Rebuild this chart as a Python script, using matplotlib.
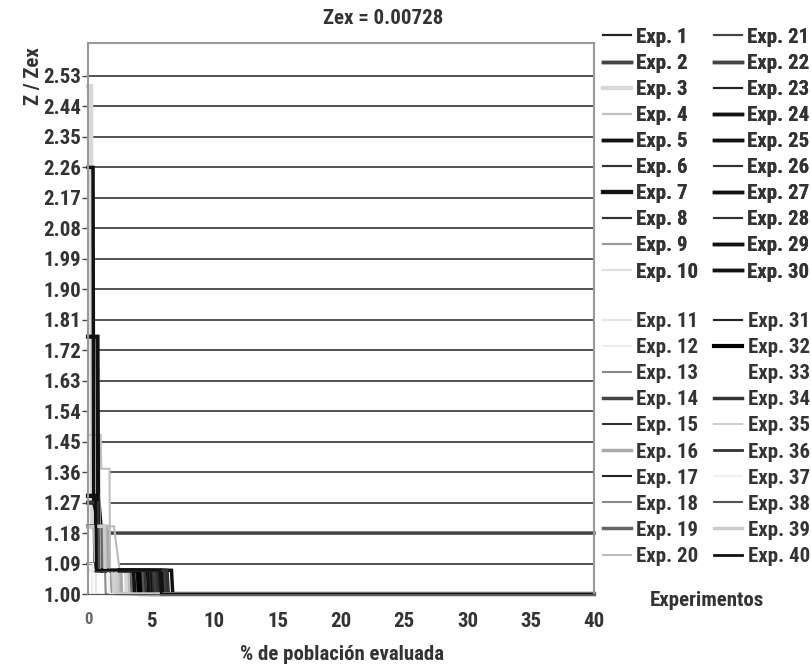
import matplotlib.pyplot as plt
import numpy as np

plt.rcParams['font.family'] = ['Roboto Condensed', 'Liberation Sans', 'DejaVu Sans']
plt.rcParams['font.weight'] = 'bold'

# % de población evaluada (x) y Z / Zex (y) de cada experimento
exp_x = [
    [0, 0.5, 0.55, 3.5, 3.55, 40],
    [0, 0.6, 0.7, 40],
    [0, 0.25, 0.3, 1.1, 1.15, 3.0, 3.05, 40],
    [0, 1.0, 1.05, 1.7, 1.75, 2.4, 2.45, 40],
    [0, 0.4, 0.45, 0.9, 1.0, 4.2, 4.25, 40],
    [0, 0.5, 0.55, 3.6, 3.7, 40],
    [0, 0.75, 0.8, 1.0, 1.05, 5.0, 5.05, 40],
    [0, 0.7, 0.75, 4.5, 4.6, 40],
    [0, 1.2, 1.25, 1.8, 1.85, 40],
    [0, 0.9, 0.95, 2.0, 2.1, 40],
    [0, 0.6, 0.65, 40],
    [0, 0.3, 0.35, 40],
    [0, 1.4, 1.45, 3.8, 3.9, 40],
    [0, 0.8, 0.85, 5.3, 5.35, 40],
    [0, 0.5, 0.55, 4.0, 4.1, 40],
    [0, 1.5, 1.6, 2.6, 2.65, 40],
    [0, 0.6, 0.65, 5.6, 5.65, 40],
    [0, 1.0, 1.05, 1.35, 1.4, 40],
    [0, 1.1, 1.15, 3.4, 3.5, 40],
    [0, 2.05, 2.5, 3.2, 3.25, 40],
    [0, 0.45, 0.5, 4.8, 4.9, 40],
    [0, 0.7, 0.75, 6.0, 6.1, 40],
    [0, 0.55, 0.6, 6.3, 6.4, 40],
    [0, 0.65, 0.7, 5.8, 5.9, 40],
    [0, 0.6, 0.65, 3.9, 4.0, 40],
    [0, 0.5, 0.55, 4.4, 4.5, 40],
    [0, 0.8, 0.85, 6.6, 6.7, 40],
    [0, 0.55, 0.6, 5.1, 5.2, 40],
    [0, 0.7, 0.75, 4.7, 4.8, 40],
    [0, 0.6, 0.65, 3.6, 3.7, 40],
    [0, 0.5, 0.55, 5.5, 5.6, 40],
    [0, 0.65, 0.7, 4.0, 4.1, 40],
    [0, 0.5, 0.55, 2.2, 2.3, 40],
    [0, 0.75, 0.8, 6.2, 6.3, 40],
    [0, 0.9, 0.95, 1.9, 2.0, 40],
    [0, 0.55, 0.6, 5.4, 5.5, 40],
    [0, 0.4, 0.45, 1.6, 1.7, 40],
    [0, 0.85, 0.9, 4.3, 4.4, 40],
    [0, 1.3, 1.35, 2.2, 2.25, 40],
    [0, 0.6, 0.65, 5.7, 5.8, 40],
]
exp_y = [
    [1.29, 1.29, 1.07, 1.07, 1.00, 1.00],
    [1.29, 1.29, 1.18, 1.18],
    [2.50, 2.50, 1.20, 1.20, 1.07, 1.07, 1.00, 1.00],
    [1.47, 1.47, 1.37, 1.37, 1.07, 1.07, 1.00, 1.00],
    [2.26, 2.26, 1.27, 1.20, 1.07, 1.07, 1.00, 1.00],
    [1.20, 1.20, 1.07, 1.07, 1.00, 1.00],
    [1.76, 1.76, 1.29, 1.20, 1.07, 1.07, 1.00, 1.00],
    [1.20, 1.20, 1.07, 1.07, 1.00, 1.00],
    [1.20, 1.20, 1.07, 1.07, 1.00, 1.00],
    [1.29, 1.29, 1.07, 1.07, 1.00, 1.00],
    [1.07, 1.07, 1.00, 1.00],
    [1.09, 1.09, 1.00, 1.00],
    [1.20, 1.20, 1.07, 1.07, 1.00, 1.00],
    [1.20, 1.20, 1.07, 1.07, 1.00, 1.00],
    [1.09, 1.09, 1.07, 1.07, 1.00, 1.00],
    [1.20, 1.20, 1.07, 1.07, 1.00, 1.00],
    [1.20, 1.20, 1.07, 1.07, 1.00, 1.00],
    [1.20, 1.20, 1.07, 1.07, 1.00, 1.00],
    [1.20, 1.20, 1.07, 1.07, 1.00, 1.00],
    [1.20, 1.20, 1.07, 1.07, 1.00, 1.00],
    [1.20, 1.20, 1.07, 1.07, 1.00, 1.00],
    [1.20, 1.20, 1.07, 1.07, 1.00, 1.00],
    [1.09, 1.09, 1.07, 1.07, 1.00, 1.00],
    [1.27, 1.27, 1.07, 1.07, 1.00, 1.00],
    [1.20, 1.20, 1.07, 1.07, 1.00, 1.00],
    [1.09, 1.09, 1.07, 1.07, 1.00, 1.00],
    [1.29, 1.29, 1.07, 1.07, 1.00, 1.00],
    [1.09, 1.09, 1.07, 1.07, 1.00, 1.00],
    [1.27, 1.27, 1.07, 1.07, 1.00, 1.00],
    [1.20, 1.20, 1.07, 1.07, 1.00, 1.00],
    [1.09, 1.09, 1.07, 1.07, 1.00, 1.00],
    [1.29, 1.29, 1.07, 1.07, 1.00, 1.00],
    [1.20, 1.20, 1.07, 1.07, 1.00, 1.00],
    [1.27, 1.27, 1.07, 1.07, 1.00, 1.00],
    [1.20, 1.20, 1.07, 1.07, 1.00, 1.00],
    [1.09, 1.09, 1.07, 1.07, 1.00, 1.00],
    [1.09, 1.09, 1.07, 1.07, 1.00, 1.00],
    [1.20, 1.20, 1.07, 1.07, 1.00, 1.00],
    [1.20, 1.20, 1.07, 1.07, 1.00, 1.00],
    [1.29, 1.29, 1.07, 1.07, 1.00, 1.00],
]
exp_labels = ['Exp. %d' % (i + 1) for i in range(40)]

# estilo de cada serie (tomado de la leyenda)
exp_colors = ['#222222', '#444444', '#d8d8d8', '#c0c0c0', '#111111', '#333333', '#111111', '#333333',
              '#999999', '#e0e0e0', '#e5e5e5', '#eeeeee', '#888888', '#444444', '#333333', '#aaaaaa',
              '#222222', '#888888', '#666666', '#bbbbbb', '#444444', '#444444', '#222222', '#111111',
              '#111111', '#333333', '#111111', '#333333', '#111111', '#111111', '#222222', '#000000',
              '#ffffff', '#333333', '#cccccc', '#333333', '#f0f0f0', '#555555', '#cccccc', '#111111']
exp_widths = [1.5, 2.5, 3, 1.5, 2.5, 1.5, 3, 1.5, 1.5, 1.5, 1.5, 1.5, 1.5, 2.5, 1.5, 2.5, 1.5, 1.5, 2.5, 1.5,
              1.5, 2.5, 1.5, 2.5, 2.5, 1.5, 2.5, 1.5, 2.5, 2.5, 1.5, 3, 1.5, 2.5, 1.5, 2, 1.5, 1.5, 2.5, 2]

y_ticks = np.round(1.0 + 0.09 * np.arange(18), 2)
x_ticks = [0, 5, 10, 15, 20, 25, 30, 35, 40]

fig = plt.figure(figsize=(8.11, 6.69), dpi=100)
ax = fig.add_axes([0.1085, 0.1121, 0.6239, 0.8229])

# lineas horizontales de la cuadricula
for yt in y_ticks[1:]:
    ax.axhline(yt, color='#444444', lw=1.3, zorder=1)

# relleno blanco bajo cada curva en su parte transitoria (como un grafico de areas)
for xs, ys in zip(exp_x, exp_y):
    k = next(i for i in range(len(ys)) if ys[i] == ys[-1])
    ax.fill_between(xs[:k + 1], 1.0, ys[:k + 1], color='white', lw=0, zorder=1.5)

handles = []
for xs, ys, c, w, lab in zip(exp_x, exp_y, exp_colors, exp_widths, exp_labels):
    ln, = ax.plot(xs, ys, color=c, lw=w, label=lab, zorder=2, clip_on=False,
                  solid_joinstyle='miter')
    handles.append(ln)

ax.set_xlim(0, 40)
ax.set_ylim(1.0, 2.626)
ax.set_yticks(y_ticks)
ax.set_yticklabels(['%.2f' % v for v in y_ticks])
ax.set_xticks(x_ticks)
ax.tick_params(axis='y', length=4, width=1, color='#444444', pad=1, labelsize=15, labelcolor='#333333')
ax.tick_params(axis='x', length=0, pad=13, labelsize=15, labelcolor='#333333')
# el "0" del eje x aparece mas pequeño y claro en el original
x0 = ax.get_xticklabels()[0]
x0.set_fontsize(12)
x0.set_color('#666666')

for s in ['left', 'top', 'right']:
    ax.spines[s].set_color('#999999')
    ax.spines[s].set_linewidth(1.5)
ax.spines['bottom'].set_color('#555555')

fig.text(0.472, 0.972, 'Zex = 0.00728', ha='center', va='center', fontsize=15, color='#333333')
fig.text(0.422, 0.021, '% de población evaluada', ha='center', va='center', fontsize=15, color='#333333')
fig.text(0.041, 0.886, 'Z / Zex', ha='center', va='center', rotation=90, fontsize=15, color='#333333')

# leyenda en dos bloques (Exp. 1-10 / 21-30 y Exp. 11-20 / 31-40)
leg_kw = dict(ncol=2, loc='upper left', frameon=False, fontsize=15, handlelength=1.35,
              handletextpad=0.25, labelspacing=0.34, columnspacing=0.75, borderaxespad=0,
              borderpad=0, labelcolor='#333333')
top_idx = list(range(0, 10)) + list(range(20, 30))
bot_idx = list(range(10, 20)) + list(range(30, 40))
leg1 = fig.legend([handles[i] for i in top_idx], [exp_labels[i] for i in top_idx],
                  bbox_to_anchor=(0.7435, 0.9585), **leg_kw)
leg2 = fig.legend([handles[i] for i in bot_idx], [exp_labels[i] for i in bot_idx],
                  bbox_to_anchor=(0.7435, 0.5335), **leg_kw)
fig.add_artist(leg1)
fig.text(0.872, 0.103, 'Experimentos', ha='center', va='center', fontsize=15, color='#333333')

fig.savefig('out.png', dpi=100)
